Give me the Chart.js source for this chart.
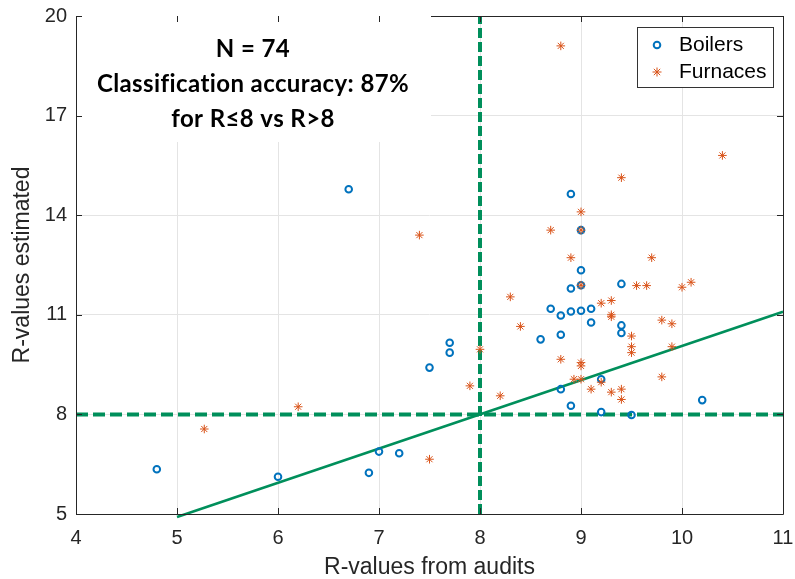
<!DOCTYPE html>
<html>
<head>
<meta charset="utf-8">
<script src="https://cdn.jsdelivr.net/npm/chart.js@4.4.1/dist/chart.umd.min.js"></script>
<style>
  html, body { margin: 0; padding: 0; background: #fff; }
  #wrap { width: 795px; height: 579px; }
</style>
</head>
<body>
<div id="wrap"><canvas id="rchart" width="795" height="579"></canvas></div>
<script>
// ---- measured vs. estimated R-values ----
const boilerX = [4.8, 6.0, 6.7, 6.9, 7.0, 7.2, 7.5, 7.7, 7.7, 8.6, 8.7, 8.8, 8.8, 8.8, 8.9, 8.9, 8.9, 8.9,
                 9.0, 9.0, 9.0, 9.0, 9.1, 9.1, 9.2, 9.2, 9.4, 9.4, 9.4, 9.5, 10.2];
const boilerY = [6.35, 6.12, 14.78, 6.24, 6.88, 6.83, 9.41, 10.16, 9.86, 10.26, 11.18, 10.98, 10.4, 8.76, 11.1, 11.79, 14.64, 8.26,
                 11.12, 11.89, 12.34, 13.55, 11.18, 10.77, 9.06, 8.07, 11.93, 10.68, 10.45, 7.98, 8.43];

const furnaceX = [5.27, 6.2, 7.4, 7.5, 7.9, 8.0, 8.2, 8.3, 8.4, 8.7, 8.8, 8.8, 8.9, 8.93, 9.0, 9.0, 9.0, 9.0, 9.0, 9.0,
                  9.1, 9.2, 9.2, 9.3, 9.3, 9.3, 9.3, 9.4, 9.4, 9.4, 9.5, 9.5, 9.5, 9.55, 9.65, 9.7, 9.8, 9.8, 9.9, 9.9,
                  10.0, 10.09, 10.4];
const furnaceY = [7.56, 8.23, 13.4, 6.65, 8.86, 9.96, 8.56, 11.54, 10.65, 13.55, 19.1, 9.66, 12.72, 9.06, 14.1, 13.55, 11.89, 9.56, 9.46, 9.06,
                  8.76, 11.35, 8.97, 11.43, 11.0, 10.94, 8.67, 15.13, 8.76, 8.45, 10.36, 10.04, 9.86, 11.88, 11.88, 12.72, 10.84, 9.13, 10.73, 10.04,
                  11.83, 11.98, 15.8];

// regression line end points
const fitX = [5, 11];
const fitY = [4.91, 11.09];

// R = 8 classification threshold
const cutoff = 8;

const xTicks = [4, 5, 6, 7, 8, 9, 10, 11];
const yTicks = [5, 8, 11, 14, 17, 20];

const noteLines = ['N = 74', 'Classification accuracy: 87%', 'for R\u22648 vs R>8'];

const BLUE = '#0072BD';
const ORANGE = '#D95319';
const GREEN = '#008f5b';
const AXIS = '#262626';

const toPoints = (xs, ys) => xs.map((x, i) => ({ x: x, y: ys[i] }));

// white note box with the summary text, sits over the grid
const notePlugin = {
    id: 'noteBox',
    beforeDatasetsDraw(chart) {
        const c = chart.ctx;
        const area = chart.chartArea;
        c.save();
        c.fillStyle = '#ffffff';
        c.fillRect(area.left + 1, area.top - 1, 354, 127);
        c.fillStyle = '#000000';
        c.font = 'bold 24px Lato';
        c.letterSpacing = '0.4px';
        c.textAlign = 'center';
        c.textBaseline = 'middle';
        const cx = area.left + 177;
        noteLines.forEach((t, i) => c.fillText(t, cx, area.top + 33 + i * 35));
        c.restore();
    }
};

// axes box, inward tick marks and the legend box
const framePlugin = {
    id: 'frameLegend',
    afterDraw(chart) {
        const c = chart.ctx;
        const { left, right, top, bottom } = chart.chartArea;
        const sx = chart.scales.x, sy = chart.scales.y;
        c.save();
        c.strokeStyle = AXIS;
        c.lineWidth = 1;
        c.beginPath();
        c.moveTo(left + 0.5, top);
        c.lineTo(left + 0.5, bottom + 0.5);
        c.lineTo(right + 0.5, bottom + 0.5);
        c.lineTo(right + 0.5, top + 0.5);
        c.lineTo(left + 355, top + 0.5);
        xTicks.forEach(v => {
            const px = Math.round(sx.getPixelForValue(v)) + 0.5;
            c.moveTo(px, bottom); c.lineTo(px, bottom - 6);
            c.moveTo(px, top); c.lineTo(px, top + 6);
        });
        yTicks.forEach(v => {
            const py = Math.round(sy.getPixelForValue(v)) + 0.5;
            c.moveTo(left, py); c.lineTo(left + 6, py);
            c.moveTo(right, py); c.lineTo(right - 6, py);
        });
        c.stroke();

        // legend
        const lx = 637.5, ly = 27.5, lw = 136, lh = 60;
        c.fillStyle = '#ffffff';
        c.fillRect(lx, ly, lw, lh);
        c.strokeStyle = '#333333';
        c.strokeRect(lx, ly, lw, lh);

        c.strokeStyle = BLUE;
        c.lineWidth = 2;
        c.beginPath();
        c.arc(657, 45, 3.3, 0, Math.PI * 2);
        c.stroke();

        c.strokeStyle = ORANGE;
        c.lineWidth = 1;
        c.beginPath();
        for (let k = 0; k < 4; k++) {
            const a = k * Math.PI / 4;
            c.moveTo(657 - 4.5 * Math.cos(a), 72 - 4.5 * Math.sin(a));
            c.lineTo(657 + 4.5 * Math.cos(a), 72 + 4.5 * Math.sin(a));
        }
        c.stroke();

        c.fillStyle = '#000000';
        c.font = '21px "Liberation Sans"';
        c.textAlign = 'left';
        c.textBaseline = 'middle';
        c.fillText('Boilers', 679, 45);
        c.fillText('Furnaces', 679, 72);
        c.restore();
    }
};

const tickFont = { family: '"Liberation Sans", Arial, sans-serif', size: 20 };
const titleFont = { family: '"Liberation Sans", Arial, sans-serif', size: 23, lineHeight: 1 };

new Chart(document.getElementById('rchart').getContext('2d'), {
    type: 'scatter',
    data: {
        datasets: [
            {
                label: 'Boilers',
                data: toPoints(boilerX, boilerY),
                pointStyle: 'circle',
                pointRadius: 3.3,
                borderWidth: 2,
                borderColor: BLUE,
                backgroundColor: 'rgba(0,0,0,0)',
                order: 2
            },
            {
                label: 'Furnaces',
                data: toPoints(furnaceX, furnaceY),
                pointStyle: 'star',
                pointRadius: 4.3,
                borderWidth: 1,
                borderColor: ORANGE,
                backgroundColor: ORANGE,
                order: 1
            },
            {
                label: 'fit',
                type: 'line',
                data: toPoints(fitX, fitY),
                borderColor: GREEN,
                borderWidth: 2.6,
                pointRadius: 0,
                clip: false,
                order: 3
            },
            {
                label: 'cutoff x',
                type: 'line',
                data: [{ x: cutoff, y: yTicks[0] }, { x: cutoff, y: yTicks[yTicks.length - 1] }],
                borderColor: GREEN,
                borderWidth: 4,
                borderDash: [10, 4],
                pointRadius: 0,
                order: 4
            },
            {
                label: 'cutoff y',
                type: 'line',
                data: [{ x: xTicks[0], y: cutoff }, { x: xTicks[xTicks.length - 1], y: cutoff }],
                borderColor: GREEN,
                borderWidth: 4,
                borderDash: [12, 5],
                pointRadius: 0,
                order: 4
            }
        ]
    },
    options: {
        responsive: false,
        animation: false,
        layout: { padding: { top: 16, right: 12, left: 0, bottom: 0 } },
        plugins: {
            legend: { display: false },
            tooltip: { enabled: false }
        },
        scales: {
            x: {
                type: 'linear',
                min: xTicks[0],
                max: xTicks[xTicks.length - 1],
                afterBuildTicks: s => { s.ticks = xTicks.map(v => ({ value: v })); },
                afterFit: s => { s.height = 65; s.paddingLeft = 0; s.paddingRight = 0; },
                grid: { color: '#e4e4e4', drawTicks: false },
                border: { display: false },
                ticks: { font: tickFont, color: AXIS, padding: 12, maxRotation: 0 },
                title: { display: true, text: 'R-values from audits', font: titleFont, color: AXIS, padding: { top: 0, bottom: 0 } }
            },
            y: {
                type: 'linear',
                min: yTicks[0],
                max: yTicks[yTicks.length - 1],
                afterBuildTicks: s => { s.ticks = yTicks.map(v => ({ value: v })); },
                afterFit: s => { s.width = 76; s.paddingTop = 0; s.paddingBottom = 0; },
                grid: { color: '#e4e4e4', drawTicks: false },
                border: { display: false },
                ticks: { font: tickFont, color: AXIS, padding: 9 },
                title: { display: true, text: 'R-values estimated', font: titleFont, color: AXIS, padding: { top: 11, bottom: 0 } }
            }
        }
    },
    plugins: [notePlugin, framePlugin]
});
</script>
</body>
</html>
